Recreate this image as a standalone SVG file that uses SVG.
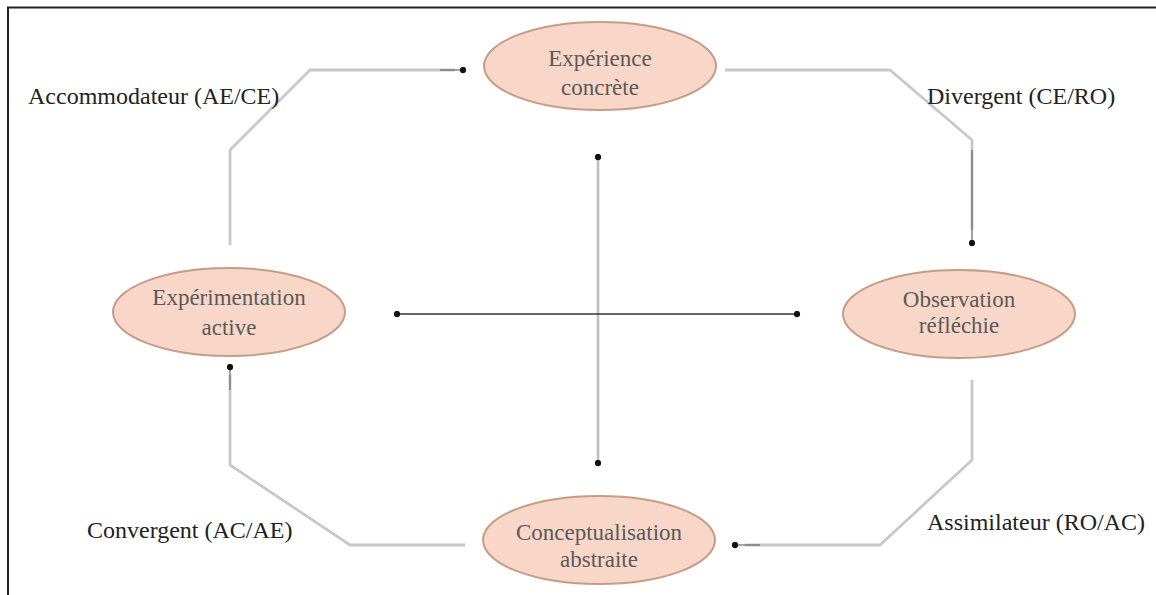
<svg xmlns="http://www.w3.org/2000/svg" width="1156" height="595" viewBox="0 0 1156 595">
<defs>
<marker id="dot2" viewBox="0 0 10 10" refX="5" refY="5" markerWidth="7" markerHeight="7" markerUnits="userSpaceOnUse" orient="auto-start-reverse">
<circle cx="5" cy="5" r="4.5" fill="#111"/>
</marker>
</defs>
<style>
.node ellipse{fill:#f8d6c8;stroke:#c79c86;stroke-width:2}
.node text{font-family:"Liberation Serif",serif;font-size:23px;fill:#5a5a5a;text-anchor:middle}
.lbl{font-family:"Liberation Serif",serif;font-size:24px;fill:#222}
.flow{fill:none;stroke:#c8c8c8;stroke-width:2.8;stroke-linejoin:round}
.end{fill:none;stroke:#666;stroke-width:1.2;marker-end:url(#dot2)}
</style>
<rect width="1156" height="595" fill="#fff"/>
<path d="M8,595 V7.5 H1156" fill="none" stroke="#222" stroke-width="2"/>
<g id="connectors">
<path class="flow" d="M230,245 V150 L310,70 H455"/>
<path class="end" d="M440,70 H463"/>
<path class="flow" d="M725,70 H890 L972,140 V230"/>
<path class="end" d="M972,150 V243"/>
<path class="flow" d="M972,380 V460 L880,545 H745"/>
<path class="end" d="M760,545 H735"/>
<path class="flow" d="M465,545 H350 L230,465 V375"/>
<path class="end" d="M230,390 V367"/>
<path d="M598,157 V463" fill="none" stroke="#bdbdbd" stroke-width="2.5" marker-start="url(#dot2)" marker-end="url(#dot2)"/>
<path d="M397,314 H797" fill="none" stroke="#333" stroke-width="1.3" marker-start="url(#dot2)" marker-end="url(#dot2)"/>
</g>
<g id="n-experience" class="node">
<ellipse cx="600" cy="66" rx="116" ry="44"/>
<text x="600" y="66">Expérience</text>
<text x="600" y="95">concrète</text>
</g>
<g id="n-experimentation" class="node">
<ellipse cx="229" cy="312" rx="116" ry="44"/>
<text x="229" y="305">Expérimentation</text>
<text x="229" y="335">active</text>
</g>
<g id="n-observation" class="node">
<ellipse cx="959" cy="314" rx="116" ry="44"/>
<text x="959" y="307">Observation</text>
<text x="959" y="333">réfléchie</text>
</g>
<g id="n-conceptualisation" class="node">
<ellipse cx="599" cy="540" rx="116" ry="44"/>
<text x="599" y="540">Conceptualisation</text>
<text x="599" y="567">abstraite</text>
</g>
<g id="labels">
<text class="lbl" x="28" y="104">Accommodateur (AE/CE)</text>
<text class="lbl" x="927" y="104">Divergent (CE/RO)</text>
<text class="lbl" x="87" y="538">Convergent (AC/AE)</text>
<text class="lbl" x="927" y="530">Assimilateur (RO/AC)</text>
</g>
</svg>
